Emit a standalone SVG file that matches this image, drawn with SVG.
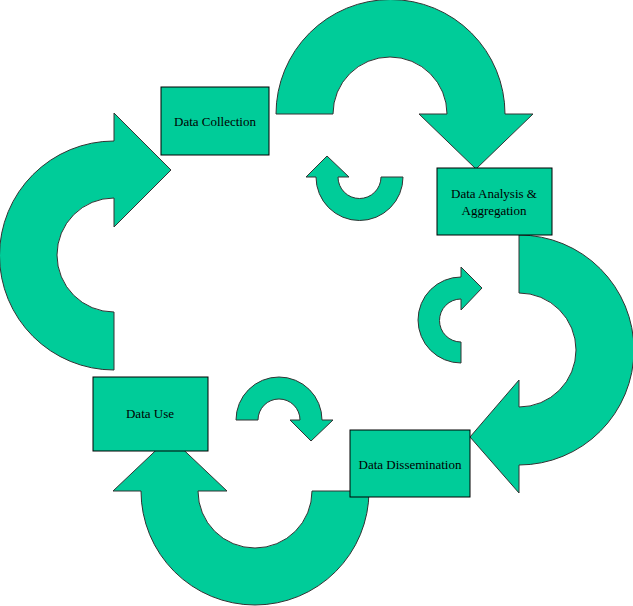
<svg xmlns="http://www.w3.org/2000/svg" width="633" height="606" viewBox="0 0 633 606">
<style>
.a{fill:#00CC99;stroke:#333;stroke-width:1}
.b{fill:#00CC99;stroke:#000;stroke-width:1}
text{font-family:"Liberation Serif",serif;font-size:13px;fill:#000;text-anchor:middle}
</style>
<rect width="633" height="606" fill="#fff"/>
<g id="connectors">
<path class="a" d="M114,370 A114,114 0 0 1 114,141 L114,113 L171,170 L114,227 L114,198 A57,57 0 0 0 114,312 Z"/>
<path class="a" d="M276,114 A114,114 0 0 1 505,114 L533,114 L476,169 L419,114 L447,114 A57,57 0 0 0 333,114 Z"/>
<path class="a" d="M519,235 A115,115 0 0 1 519,465 L519,493 L470,437 L519,380 L519,407 A57,57 0 0 0 519,293 Z"/>
<path class="a" d="M369,491 A114,114 0 0 1 141,491 L113,491 L170,437 L227,491 L198,491 A57,57 0 0 0 312,491 Z"/>
<path class="a" d="M403,177 A43,43 0 0 1 316,177 L306,177 L327,156 L349,177 L338,177 A21,21 0 0 0 381,177 Z"/>
<path class="a" d="M461,363 A43,43 0 0 1 461,277 L461,267 L482,288 L461,310 L461,299 A21,21 0 0 0 461,342 Z"/>
<path class="a" d="M236,420 A43,43 0 0 1 322,420 L333,420 L311,441 L290,420 L300,420 A21,21 0 0 0 258,420 Z"/>
</g>
<g id="collection"><rect class="b" x="161" y="87" width="108" height="68"/><text x="215" y="126">Data Collection</text></g>
<g id="analysis"><rect class="b" x="437" y="168" width="115" height="67"/><text x="494" y="198">Data Analysis &amp;</text><text x="494" y="215">Aggregation</text></g>
<g id="dissemination"><rect class="b" x="350" y="430" width="120" height="67"/><text x="410" y="469">Data Dissemination</text></g>
<g id="use"><rect class="b" x="93" y="377" width="115" height="74"/><text x="150" y="418">Data Use</text></g>
</svg>
